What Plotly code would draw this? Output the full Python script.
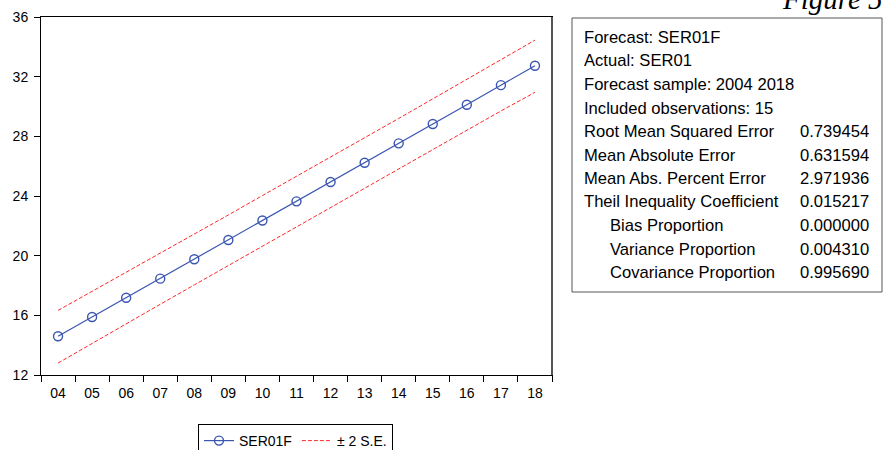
import plotly.graph_objects as go

years = ["04", "05", "06", "07", "08", "09", "10", "11", "12", "13", "14", "15", "16", "17", "18"]
forecast = [14.60, 15.89, 17.18, 18.46, 19.76, 21.05, 22.36, 23.64, 24.94, 26.23, 27.53, 28.83, 30.12, 31.43, 32.73]
upper = [16.33, 17.60, 18.88, 20.16, 21.45, 22.73, 24.03, 25.31, 26.61, 27.90, 29.20, 30.51, 31.81, 33.13, 34.45]
lower = [12.80, 14.13, 15.43, 16.74, 18.04, 19.34, 20.64, 21.93, 23.23, 24.52, 25.82, 27.12, 28.40, 29.70, 30.95]
y_ticks = [12, 16, 20, 24, 28, 32, 36]

stat_labels = ["Forecast: SER01F", "Actual: SER01", "Forecast sample: 2004 2018",
               "Included observations: 15", "Root Mean Squared Error", "Mean Absolute Error",
               "Mean Abs. Percent Error", "Theil Inequality Coefficient", "Bias Proportion",
               "Variance Proportion", "Covariance Proportion"]
stat_values = ["", "", "", "", "0.739454", "0.631594", "2.971936", "0.015217",
               "0.000000", "0.004310", "0.995690"]
stat_indent = [False, False, False, False, False, False, False, False, True, True, True]

W, H = 885, 450
L, R, T, B = 41, 552, 17, 375  # plot area in screen pixels

def px(x):
    return (x - L) / (R - L)

def py(y):
    return (B - y) / (B - T)

BLUE = "rgb(58,86,176)"
RED = "rgb(255,40,40)"
FONT = "Liberation Sans, Arial, sans-serif"

fig = go.Figure()
fig.add_trace(go.Scatter(
    x=years, y=forecast, name="SER01F", mode="lines+markers",
    line=dict(color=BLUE, width=1.2),
    marker=dict(symbol="circle-open", size=9, color=BLUE, line=dict(width=1.4, color=BLUE)),
))
fig.add_trace(go.Scatter(
    x=years, y=upper, name="\u00b1 2 S.E.", mode="lines",
    line=dict(color=RED, width=1, dash="4px,2px"),
))
fig.add_trace(go.Scatter(
    x=years, y=lower, name="\u00b1 2 S.E.", mode="lines", showlegend=False,
    line=dict(color=RED, width=1, dash="4px,2px"),
))

annotations = []
for i, (lab, val, ind) in enumerate(zip(stat_labels, stat_values, stat_indent)):
    yc = 37.5 + 23.5 * i
    annotations.append(dict(
        x=px(608 if ind else 582), y=py(yc), xref="paper", yref="paper",
        text=lab, showarrow=False, xanchor="left", yanchor="middle",
        font=dict(family=FONT, size=16.6, color="black"),
    ))
    if val:
        annotations.append(dict(
            x=px(871), y=py(yc), xref="paper", yref="paper",
            text=val, showarrow=False, xanchor="right", yanchor="middle",
            font=dict(family=FONT, size=16.6, color="black"),
        ))
annotations.append(dict(
    x=px(780), y=py(17), xref="paper", yref="paper",
    text="<i>Figure 5</i>", showarrow=False, xanchor="left", yanchor="bottom",
    font=dict(family="Liberation Serif, Times New Roman, serif", size=29, color="black"),
))

shapes = [
    dict(type="rect", xref="paper", yref="paper",
         x0=px(572), x1=px(882), y0=py(18), y1=py(292),
         line=dict(color="#555555", width=1), fillcolor="rgba(0,0,0,0)"),
    dict(type="line", xref="paper", yref="paper",
         x0=1, x1=1, y0=0, y1=1, line=dict(color="#555555", width=2)),
]

fig.update_layout(
    width=W, height=H,
    margin=dict(l=L, r=W - R, t=T, b=H - B, pad=0, autoexpand=False),
    paper_bgcolor="white", plot_bgcolor="white",
    font=dict(family=FONT, size=14, color="black"),
    showlegend=True,
    legend=dict(
        orientation="h", x=px(198), y=py(424), xanchor="left", yanchor="top",
        bordercolor="black", borderwidth=1, bgcolor="white",
        font=dict(family=FONT, size=14, color="black"),
        itemwidth=30,
    ),
    annotations=annotations,
    shapes=shapes,
    xaxis=dict(
        type="category", range=[-0.5, 14.5], tickson="boundaries",
        ticks="outside", ticklen=6, tickcolor="black", tickwidth=1,
        showline=True, linecolor="black", linewidth=1, mirror=True,
        showgrid=False, zeroline=False, automargin=False,
        ticklabelstandoff=5,
        tickfont=dict(family=FONT, size=14, color="black"),
    ),
    yaxis=dict(
        range=[12, 36], tickvals=y_ticks,
        ticks="outside", ticklen=6, tickcolor="black", tickwidth=1,
        showline=True, linecolor="black", linewidth=1, mirror=True,
        showgrid=False, zeroline=False, automargin=False,
        ticklabelstandoff=3,
        tickfont=dict(family=FONT, size=14, color="black"),
    ),
)

fig.write_html(
    "out.html",
    config={"displayModeBar": False},
    post_script="document.body.style.margin='0';document.body.style.overflow='hidden';",
)
